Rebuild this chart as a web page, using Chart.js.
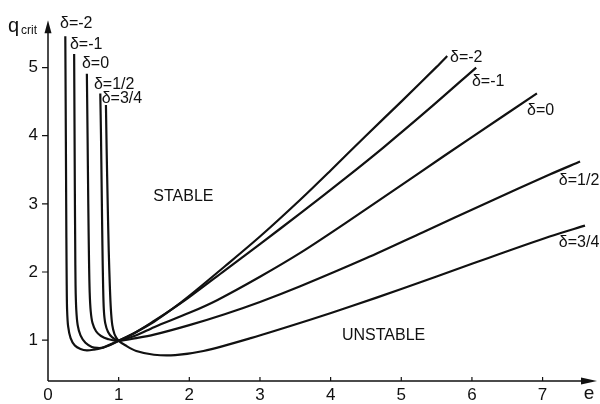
<!DOCTYPE html>
<html lang="en">
<head>
<meta charset="UTF-8">
<title>q crit vs e</title>
<script src="https://cdn.jsdelivr.net/npm/chart.js"></script>
<style>
  html, body { margin: 0; padding: 0; background: #fff; }
</style>
</head>
<body>
<canvas id="c" width="600" height="404"></canvas>
<script>
// curves q_crit(e) as [e, q] pairs
const deltaNames = ['δ=-2', 'δ=-1', 'δ=0', 'δ=1/2', 'δ=3/4'];
const curveM2 = [[0.245,5.46],[0.25,4.5],[0.255,3.5],[0.26,2.5],[0.265,1.8],[0.27,1.45],[0.285,1.2],[0.32,1.03],[0.38,0.92],[0.46,0.87],[0.55,0.85],[0.65,0.86],[0.75,0.88],[0.87,0.93],[1.0,0.99],[1.25,1.12],[1.5,1.27],[1.75,1.45],[2.0,1.65],[2.5,2.08],[3.0,2.52],[3.57,3.06],[4.0,3.49],[4.5,4.0],[5.0,4.5],[5.5,5.01],[5.65,5.17]];
const curveM1 = [[0.37,5.2],[0.375,4.2],[0.38,3.2],[0.385,2.4],[0.39,1.8],[0.40,1.45],[0.42,1.22],[0.46,1.07],[0.53,0.96],[0.62,0.9],[0.70,0.885],[0.78,0.89],[0.88,0.93],[1.0,0.99],[1.25,1.12],[1.5,1.28],[1.75,1.45],[2.0,1.63],[2.5,2.02],[3.0,2.41],[3.57,2.86],[4.2,3.37],[4.75,3.83],[5.4,4.4],[6.06,5.0]];
const curve0 = [[0.55,4.91],[0.56,4.0],[0.57,3.0],[0.58,2.2],[0.59,1.7],[0.605,1.42],[0.63,1.25],[0.68,1.13],[0.75,1.06],[0.85,1.015],[1.0,0.99],[1.25,1.07],[1.5,1.19],[2.0,1.40],[2.4,1.59],[3.0,1.93],[3.57,2.28],[4.2,2.71],[5.22,3.43],[6.0,3.98],[6.92,4.62]];
const curveP12 = [[0.74,4.62],[0.75,4.0],[0.76,3.2],[0.77,2.4],[0.78,1.8],[0.79,1.45],[0.81,1.25],[0.85,1.12],[0.91,1.04],[1.0,0.99],[1.25,1.03],[1.5,1.08],[2.0,1.22],[2.5,1.38],[3.0,1.56],[3.57,1.79],[4.5,2.2],[5.3,2.58],[6.2,3.01],[7.1,3.43],[7.53,3.62]];
const curveP34 = [[0.82,4.45],[0.83,3.8],[0.845,3.0],[0.86,2.3],[0.875,1.8],[0.89,1.45],[0.91,1.22],[0.94,1.09],[0.97,1.03],[1.0,0.99],[1.1,0.92],[1.25,0.84],[1.5,0.785],[1.8,0.78],[2.2,0.84],[2.87,1.03],[3.71,1.30],[4.3,1.5],[5.0,1.75],[6.0,2.12],[7.1,2.52],[7.6,2.68]];
const curves = [curveM2, curveM1, curve0, curveP12, curveP34];

const xTicks = [0, 1, 2, 3, 4, 5, 6, 7];
const yTicks = [1, 2, 3, 4, 5];

// text placed in data coordinates (left edge, vertical middle)
const leftLabels = [[0.17,5.64],[0.31,5.34],[0.48,5.06],[0.65,4.75],[0.76,4.54]];
const rightLabels = [[5.69,5.15],[6.0,4.8],[6.78,4.37],[7.23,3.34],[7.23,2.43]];
const regionLabels = [['STABLE',1.49,3.1],['UNSTABLE',4.16,1.06]];

const INK = '#111';
const FONT = '"Liberation Sans", Arial, sans-serif';

const axesPlugin = {
  id: 'axes',
  afterDraw(chart) {
    const { ctx, chartArea: a, scales: { x, y } } = chart;
    ctx.save();
    ctx.strokeStyle = INK;
    ctx.fillStyle = INK;
    ctx.lineWidth = 1.5;
    // axis lines
    ctx.beginPath();
    ctx.moveTo(a.left, a.bottom);
    ctx.lineTo(a.left, a.top + 8);
    ctx.moveTo(a.left, a.bottom);
    ctx.lineTo(a.right - 8, a.bottom);
    ctx.stroke();
    // arrow heads
    ctx.beginPath();
    ctx.moveTo(a.left, a.top);
    ctx.lineTo(a.left - 3.5, a.top + 13);
    ctx.lineTo(a.left + 3.5, a.top + 13);
    ctx.closePath();
    ctx.fill();
    ctx.beginPath();
    ctx.moveTo(a.right, a.bottom);
    ctx.lineTo(a.right - 16, a.bottom - 3.5);
    ctx.lineTo(a.right - 16, a.bottom + 3.5);
    ctx.closePath();
    ctx.fill();
    // tick marks
    ctx.lineWidth = 1.2;
    ctx.beginPath();
    yTicks.forEach(v => {
      const py = y.getPixelForValue(v);
      ctx.moveTo(a.left - 6, py);
      ctx.lineTo(a.left, py);
    });
    xTicks.slice(1).forEach(v => {
      const px = x.getPixelForValue(v);
      ctx.moveTo(px, a.bottom);
      ctx.lineTo(px, a.bottom - 4);
    });
    ctx.stroke();

    // curve names
    ctx.font = '16px ' + FONT;
    ctx.textAlign = 'left';
    ctx.textBaseline = 'middle';
    deltaNames.forEach((name, i) => {
      ctx.fillText(name, x.getPixelForValue(leftLabels[i][0]), y.getPixelForValue(leftLabels[i][1]));
      ctx.fillText(name, x.getPixelForValue(rightLabels[i][0]), y.getPixelForValue(rightLabels[i][1]));
    });
    regionLabels.forEach(([t, e, q]) => {
      ctx.fillText(t, x.getPixelForValue(e), y.getPixelForValue(q));
    });

    // axis titles
    ctx.textBaseline = 'alphabetic';
    ctx.font = '20px ' + FONT;
    ctx.fillText('q', a.left - 40, a.top + 12);
    ctx.font = '12px ' + FONT;
    ctx.fillText('crit', a.left - 27, a.top + 14);
    ctx.font = '19px ' + FONT;
    ctx.textAlign = 'center';
    ctx.fillText('e', a.right - 8, a.bottom + 18);
    ctx.restore();
  }
};

new Chart(document.getElementById('c'), {
  type: 'line',
  data: {
    datasets: curves.map((c, i) => ({
      label: deltaNames[i],
      data: c.map(([e, q]) => ({ x: e, y: q })),
      borderColor: INK,
      borderWidth: 2.2,
      pointRadius: 0,
      tension: 0.3,
      fill: false
    }))
  },
  options: {
    responsive: false,
    animation: false,
    devicePixelRatio: 1,
    layout: { padding: { left: 0, right: 3, top: 13, bottom: 0 } },
    plugins: { legend: { display: false }, tooltip: { enabled: false } },
    scales: {
      x: {
        type: 'linear',
        min: 0,
        max: 7.77,
        grid: { display: false, drawTicks: false },
        border: { display: false },
        ticks: { color: INK, font: { family: FONT, size: 17 }, padding: 4 },
        afterBuildTicks: s => { s.ticks = xTicks.map(v => ({ value: v })); },
        afterFit: s => { s.height = 23; }
      },
      y: {
        type: 'linear',
        min: 0.4,
        max: 5.695,
        grid: { display: false, drawTicks: false },
        border: { display: false },
        ticks: { color: INK, font: { family: FONT, size: 17 }, padding: 10 },
        afterBuildTicks: s => { s.ticks = yTicks.map(v => ({ value: v })); },
        afterFit: s => { s.width = 48; }
      }
    }
  },
  plugins: [axesPlugin]
});
</script>
</body>
</html>
